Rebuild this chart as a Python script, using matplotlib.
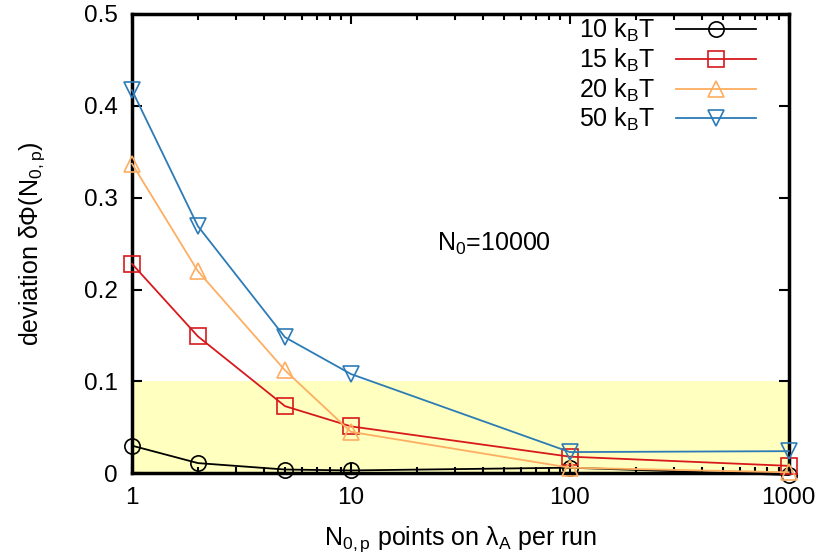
import matplotlib
matplotlib.use("Agg")
import matplotlib.pyplot as plt
from matplotlib.ticker import LogLocator, NullFormatter, FixedLocator

plt.rcParams['font.family'] = ['Liberation Sans', 'DejaVu Sans']
plt.rcParams['mathtext.fontset'] = 'custom'
plt.rcParams['mathtext.rm'] = 'Liberation Sans'
plt.rcParams['mathtext.it'] = 'Liberation Sans'

# data
n_points = [1, 2, 5, 10, 100, 1000]
dev_10 = [0.030, 0.011, 0.004, 0.003, 0.006, -0.002]
dev_15 = [0.228, 0.149, 0.073, 0.051, 0.018, 0.008]
dev_20 = [0.337, 0.220, 0.112, 0.045, 0.006, 0.001]
dev_50 = [0.417, 0.269, 0.148, 0.108, 0.023, 0.024]
labels = [r'10 k$_\mathrm{B}$T', r'15 k$_\mathrm{B}$T', r'20 k$_\mathrm{B}$T', r'50 k$_\mathrm{B}$T']
colors = ['black', '#d7191c', '#fdae61', '#2c7bb6']
markers = ['o', 's', '^', 'v']

fig = plt.figure(figsize=(8.25, 5.6), dpi=100)
ax = fig.add_axes([0.16, 0.155, 0.796, 0.82])

ax.axhspan(0, 0.1, color='#ffffc0', zorder=0, lw=0)

for ys, lab, c, m in zip([dev_10, dev_15, dev_20, dev_50], labels, colors, markers):
    ax.plot(n_points, ys, color=c, marker=m, ms=11, mfc='none', mec=c, mew=1.2,
            lw=1.3, label=lab, clip_on=False, zorder=3)

ax.set_xscale('log')
ax.set_xlim(1, 1000)
ax.set_ylim(0, 0.5)
ax.set_xticks([1, 10, 100, 1000])
ax.set_xticklabels(['1', '10', '100', '1000'])
ax.xaxis.set_minor_locator(LogLocator(base=10, subs=range(2, 10)))
ax.xaxis.set_minor_formatter(NullFormatter())
ax.yaxis.set_major_locator(FixedLocator([0, 0.1, 0.2, 0.3, 0.4, 0.5]))
ax.set_yticklabels(['0', '0.1', '0.2', '0.3', '0.4', '0.5'])

ax.tick_params(which='both', direction='in', top=True, right=True, labelsize=17.5, width=1.5)
ax.tick_params(which='major', length=7)
ax.tick_params(axis='x', which='major', pad=10)
ax.tick_params(axis='y', which='major', pad=10)
ax.tick_params(which='minor', length=4)
for sp in ax.spines.values():
    sp.set_linewidth(2.5)

ax.set_xlabel(r'N$_{0,p}$ points on $\lambda_A$ per run', fontsize=18, labelpad=11)
ax.set_ylabel(r'deviation $\delta\Phi$(N$_{0,p}$)', fontsize=18, labelpad=27)

ax.text(45, 0.25, r'N$_0$=10000', fontsize=18, ha='center', va='center')

ax.legend(loc='upper right', markerfirst=False, frameon=False, fontsize=18,
          handlelength=3.2, handletextpad=0.8, labelspacing=0.1,
          borderaxespad=0.0, bbox_to_anchor=(0.965, 1.015))

fig.savefig('out.png', dpi=100)
